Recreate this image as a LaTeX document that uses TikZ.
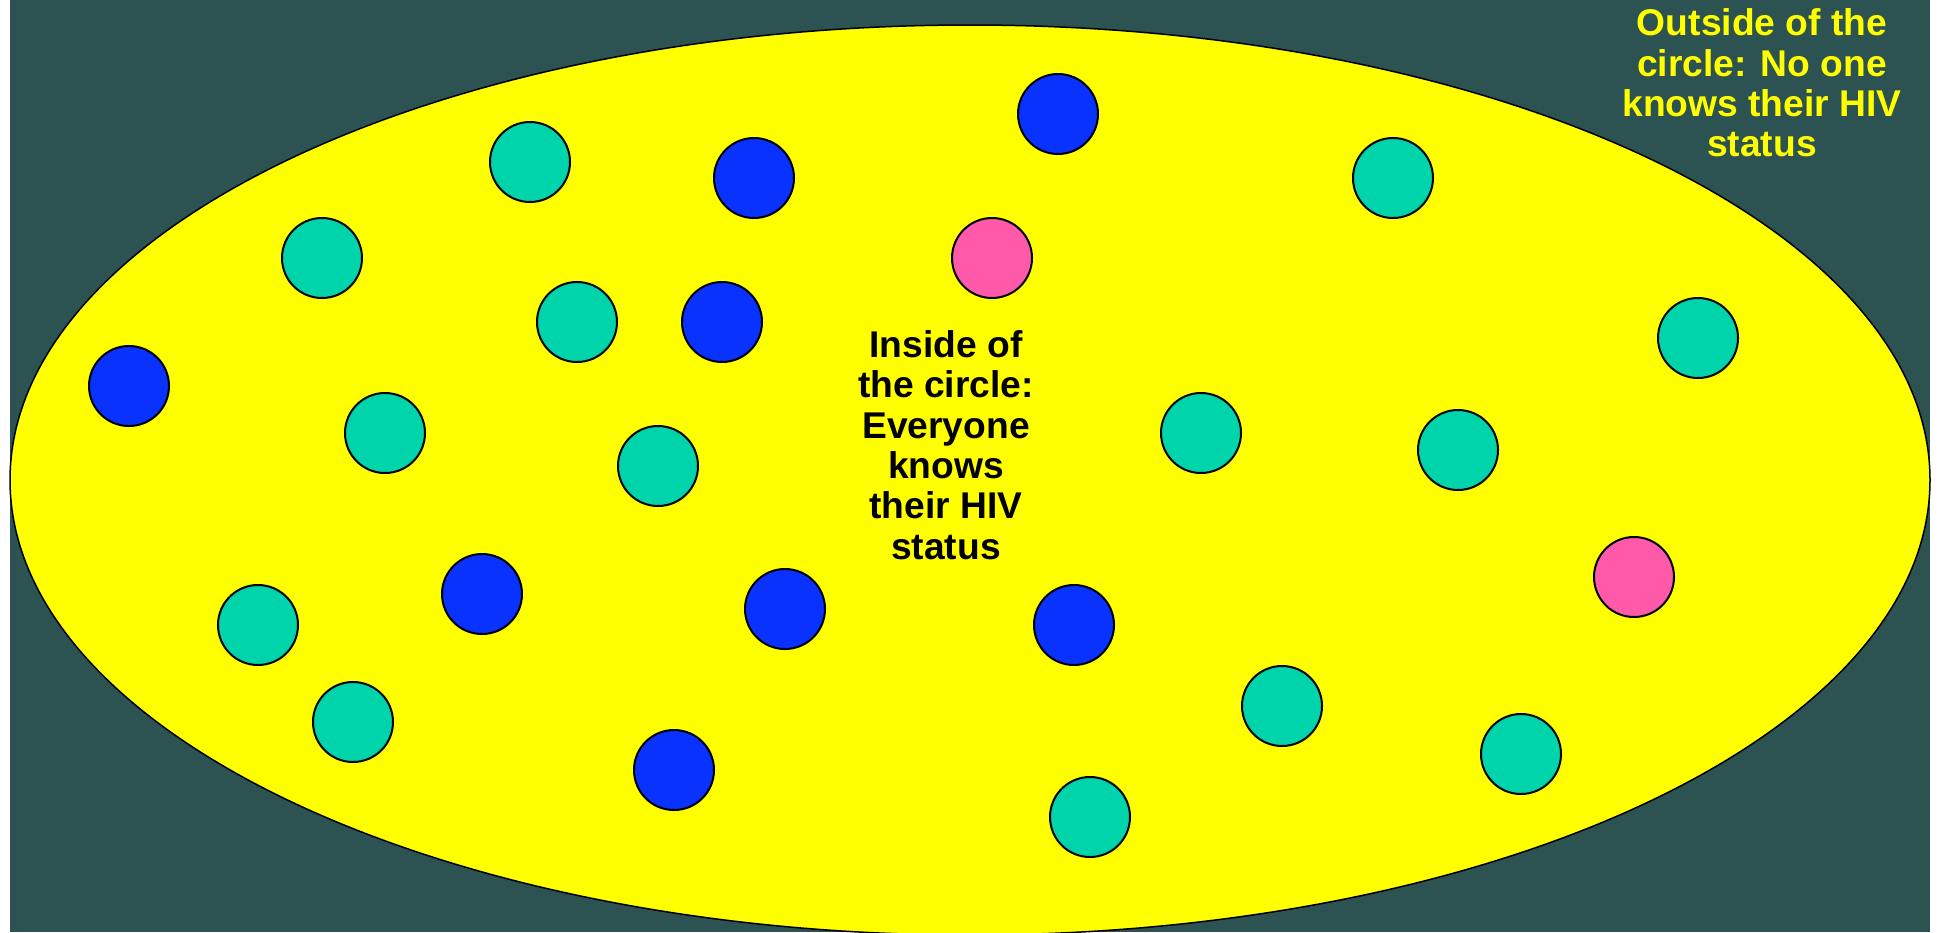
\documentclass[tikz,border=0pt]{standalone}
\usepackage{fontspec}
\setmainfont{Liberation Sans}
\definecolor{slatebg}{HTML}{2C5351}
\definecolor{circleyellow}{HTML}{FFFF00}
\definecolor{personteal}{HTML}{00D4AA}
\definecolor{personblue}{HTML}{0A32FF}
\definecolor{personpink}{HTML}{FF5AAA}
\begin{document}
\begin{tikzpicture}[x=0.5pt, y=-0.5pt,
  person/.style={circle, draw=black, line width=1pt, minimum size=40pt, inner sep=0pt},
  tealdot/.style={person, fill=personteal},
  bluedot/.style={person, fill=personblue},
  pinkdot/.style={person, fill=personpink},
  caption/.style={align=center, font=\fontsize{18.6}{20.2}\selectfont\bfseries}]
  \useasboundingbox (0,0) rectangle (1942,932);

  % Background
  \fill[slatebg] (10,0) rectangle (1930,932);

  % The circle
  \draw[fill=circleyellow, line width=0.75pt] (970,480)
    ellipse [x radius=480pt, y radius=227.5pt];

  % People
  \foreach \px/\py [count=\i] in {530/162, 322/258, 577/322, 385/433, 658/466,
      258/625, 353/722, 1393/178, 1698/338, 1201/433, 1458/450, 1282/706,
      1521/754, 1090/817}
    \node[tealdot] (t\i) at (\px,\py) {};
  \foreach \px/\py [count=\i] in {1058/114, 754/178, 722/322, 129/386, 482/594,
      785/609, 1074/625, 674/770}
    \node[bluedot] (b\i) at (\px,\py) {};
  \node[pinkdot] (p1) at (992,258) {};
  \node[pinkdot] (p2) at (1634,577) {};

  % Labels
  \node[caption, text=black] (inside) at (946,445)
    {Inside of\\the circle:\\Everyone\\knows\\their HIV\\status};
  \node[caption, text=circleyellow] (outside) at (1762,83)
    {Outside of the\\circle: No one\\knows their HIV\\status};
\end{tikzpicture}
\end{document}
